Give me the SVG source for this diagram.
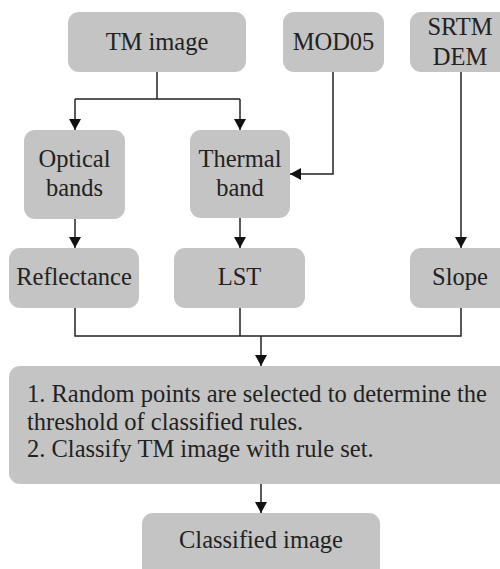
<svg xmlns="http://www.w3.org/2000/svg" width="500" height="569" viewBox="0 0 500 569">
<defs>
<marker id="ah" markerUnits="userSpaceOnUse" markerWidth="12" markerHeight="12" viewBox="0 0 12 12" refX="11" refY="6" orient="auto">
<path d="M0,0 L11,6 L0,12 Z" fill="#111"/>
</marker>
</defs>
<rect width="500" height="569" fill="#fff"/>
<g id="connectors" fill="none" stroke="#222" stroke-width="1.5">
<path d="M157,72 V99 M75,99 H240"/>
<path d="M75,99 V130" marker-end="url(#ah)"/>
<path d="M240,99 V130" marker-end="url(#ah)"/>
<path d="M333,72 V174 H290" marker-end="url(#ah)"/>
<path d="M461,72 V248" marker-end="url(#ah)"/>
<path d="M75,219 V248" marker-end="url(#ah)"/>
<path d="M240,218 V248" marker-end="url(#ah)"/>
<path d="M75,308 V336 H461 V308 M240,308 V336"/>
<path d="M261,336 V366" marker-end="url(#ah)"/>
<path d="M261,484 V513" marker-end="url(#ah)"/>
</g>
<g font-family="'Liberation Serif', 'Times New Roman', Times, serif" font-size="24.5" fill="#222">
<g id="tm"><rect fill="#c4c4c4" x="68" y="12" width="178" height="60" rx="11"/><text text-anchor="middle" x="157" y="50">TM image</text></g>
<g id="mod05"><rect fill="#c4c4c4" x="283" y="12" width="101" height="60" rx="11"/><text text-anchor="middle" x="333.5" y="50">MOD05</text></g>
<g id="srtm"><rect fill="#c4c4c4" x="410" y="12" width="100" height="60" rx="11"/><text text-anchor="middle" x="460" y="35">SRTM</text><text text-anchor="middle" x="460" y="65">DEM</text></g>
<g id="optical"><rect fill="#c4c4c4" x="24" y="130" width="101" height="89" rx="11"/><text text-anchor="middle" x="74.5" y="167">Optical</text><text text-anchor="middle" x="74.5" y="196">bands</text></g>
<g id="thermal"><rect fill="#c4c4c4" x="190" y="130" width="100" height="88" rx="11"/><text text-anchor="middle" x="240" y="167">Thermal</text><text text-anchor="middle" x="240" y="196">band</text></g>
<g id="reflectance"><rect fill="#c4c4c4" x="9" y="248" width="130" height="60" rx="11"/><text text-anchor="middle" x="74" y="285">Reflectance</text></g>
<g id="lst"><rect fill="#c4c4c4" x="174" y="248" width="131" height="60" rx="11"/><text text-anchor="middle" x="239.5" y="285">LST</text></g>
<g id="slope"><rect fill="#c4c4c4" x="410" y="248" width="100" height="60" rx="11"/><text text-anchor="middle" x="460" y="285">Slope</text></g>
<g id="rules"><rect fill="#c4c4c4" x="9" y="366" width="501" height="118" rx="11"/>
<text x="27" y="402">1. Random points are selected to determine the</text>
<text x="27" y="430">threshold of classified rules.</text>
<text x="27" y="457">2. Classify TM image with rule set.</text></g>
<g id="classified"><rect fill="#c4c4c4" x="142" y="513" width="238" height="70" rx="11"/><text text-anchor="middle" x="261" y="548">Classified image</text></g>
</g>
</svg>
